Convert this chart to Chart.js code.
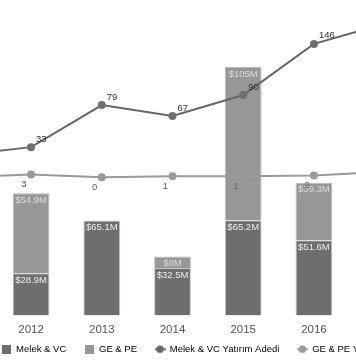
<!DOCTYPE html>
<html><head><meta charset="utf-8">
<script src="https://cdn.jsdelivr.net/npm/chart.js@4/dist/chart.umd.min.js"></script>
<style>
html,body{margin:0;padding:0;background:#fff;overflow:hidden;width:356px;height:364px;}
#wrap{position:absolute;left:-79px;top:0;width:569px;height:364px;}
</style></head><body>
<div id="wrap"><canvas id="c"></canvas></div>
<script>
const years = ['2011', '2012', '2013', '2014', '2015', '2016', '2017'];
const melekVCAmount = [null, 28.9, 65.1, 32.5, 65.2, 51.6, null];
const gePEAmount = [null, 54.9, null, 8, 105, 39.3, null];
const melekVCCount = [24, 33, 79, 67, 90, 146, 168];
const gePECount = [0, 3, 0, 1, 1, 2, 6];
const seriesNames = ['Melek & VC', 'GE & PE', 'Melek & VC Yatırım Adedi', 'GE & PE Yatırım Adedi'];

const FONT = '"Liberation Sans", Arial, Helvetica, sans-serif';
const C_MELEK_BAR = '#6e6e6e', C_GE_BAR = '#979797', C_MELEK_LINE = '#666666', C_GE_LINE = '#9a9a9a';

function rectIcon(color){const c=document.createElement('canvas');c.width=9;c.height=9;const x=c.getContext('2d');x.fillStyle=color;x.fillRect(0,0,9,9);return c;}
function lineIcon(color){const c=document.createElement('canvas');c.width=11;c.height=9;const x=c.getContext('2d');x.strokeStyle=color;x.lineWidth=2;x.beginPath();x.moveTo(0,4.5);x.lineTo(11,4.5);x.stroke();x.fillStyle=color;x.beginPath();x.arc(5.5,4.5,3.7,0,Math.PI*2);x.fill();return c;}
const icons = [rectIcon(C_MELEK_BAR), rectIcon(C_GE_BAR), lineIcon(C_MELEK_LINE), lineIcon(C_GE_LINE)];

const labelPlugin = {
  id: 'valueLabels',
  afterLayout(chart) {
    // let the year labels draw below the (shortened) x-axis box without being clipped
    chart.scales.x.bottom = chart.height;
  },
  afterDatasetsDraw(chart) {
    const ctx = chart.ctx;
    ctx.save();
    ctx.font = '9.5px ' + FONT;
    [0, 1].forEach(di => {
      const meta = chart.getDatasetMeta(di);
      const vals = chart.data.datasets[di].data;
      meta.data.forEach((el, i) => {
        const v = vals[i];
        if (v == null) return;
        ctx.fillStyle = di === 0 ? '#eeeeee' : '#dddddd';
        ctx.textAlign = 'center';
        ctx.textBaseline = 'middle';
        ctx.fillText('$' + v + 'M', el.x, el.y + 7);
      });
    });
    const m2 = chart.getDatasetMeta(2);
    m2.data.forEach((el, i) => {
      ctx.fillStyle = '#333333';
      ctx.textAlign = 'left';
      ctx.textBaseline = 'alphabetic';
      ctx.fillText(String(melekVCCount[i]), el.x + 5, el.y - 5.5);
    });
    const m3 = chart.getDatasetMeta(3);
    m3.data.forEach((el, i) => {
      ctx.fillStyle = '#666666';
      ctx.textAlign = 'right';
      ctx.textBaseline = 'top';
      ctx.fillText(String(gePECount[i]), el.x - 4.5, el.y + 5);
    });
    ctx.restore();
  }
};

new Chart(document.getElementById('c'), {
  data: {
    labels: years,
    datasets: [
      { type: 'bar', label: seriesNames[0], data: melekVCAmount, yAxisID: 'y', backgroundColor: C_MELEK_BAR, borderColor: '#c4c4c4', borderWidth: 1, order: 2, barPercentage: 0.52, categoryPercentage: 1 },
      { type: 'bar', label: seriesNames[1], data: gePEAmount, yAxisID: 'y', backgroundColor: C_GE_BAR, borderColor: '#b8b8b8', borderWidth: 1, order: 2, barPercentage: 0.52, categoryPercentage: 1 },
      { type: 'line', label: seriesNames[2], data: melekVCCount, yAxisID: 'y2', borderColor: C_MELEK_LINE, backgroundColor: '#707070', borderWidth: 2, pointRadius: 4, pointBorderWidth: 0, tension: 0, order: 1 },
      { type: 'line', label: seriesNames[3], data: gePECount, yAxisID: 'y2', borderColor: C_GE_LINE, backgroundColor: '#9a9a9a', borderWidth: 2, pointRadius: 4, pointBorderWidth: 0, tension: 0, order: 1 }
    ]
  },
  options: {
    responsive: true,
    maintainAspectRatio: false,
    animation: false,
    layout: { padding: { top: 10, left: 0, right: 0, bottom: 0 } },
    scales: {
      x: {
        stacked: true,
        grid: { display: false, drawTicks: false },
        border: { display: false },
        ticks: { color: '#555555', font: { size: 11.5, family: FONT }, padding: 7, autoSkip: false, maxRotation: 0 },
        afterFit(s) { s.height = 11; }
      },
      y: {
        stacked: true,
        position: 'right',
        min: 0,
        max: 209.3,
        grid: { display: false, drawTicks: false },
        border: { display: false },
        ticks: { display: false },
        afterFit(s) { s.width = 70; }
      },
      y2: {
        display: false,
        position: 'left',
        min: -151.3,
        max: 183.1
      }
    },
    plugins: {
      tooltip: { enabled: false },
      legend: {
        position: 'bottom',
        labels: {
          usePointStyle: true,
          boxWidth: 10,
          pointStyleWidth: 10,
          padding: 18,
          color: '#777777',
          font: { size: 9.5, family: FONT },
          generateLabels() {
            return seriesNames.map((t, i) => ({ text: t, fillStyle: '#000', strokeStyle: '#000', lineWidth: 0, pointStyle: icons[i], hidden: false, datasetIndex: i }));
          }
        }
      }
    }
  },
  plugins: [labelPlugin]
});
</script>
</body></html>
